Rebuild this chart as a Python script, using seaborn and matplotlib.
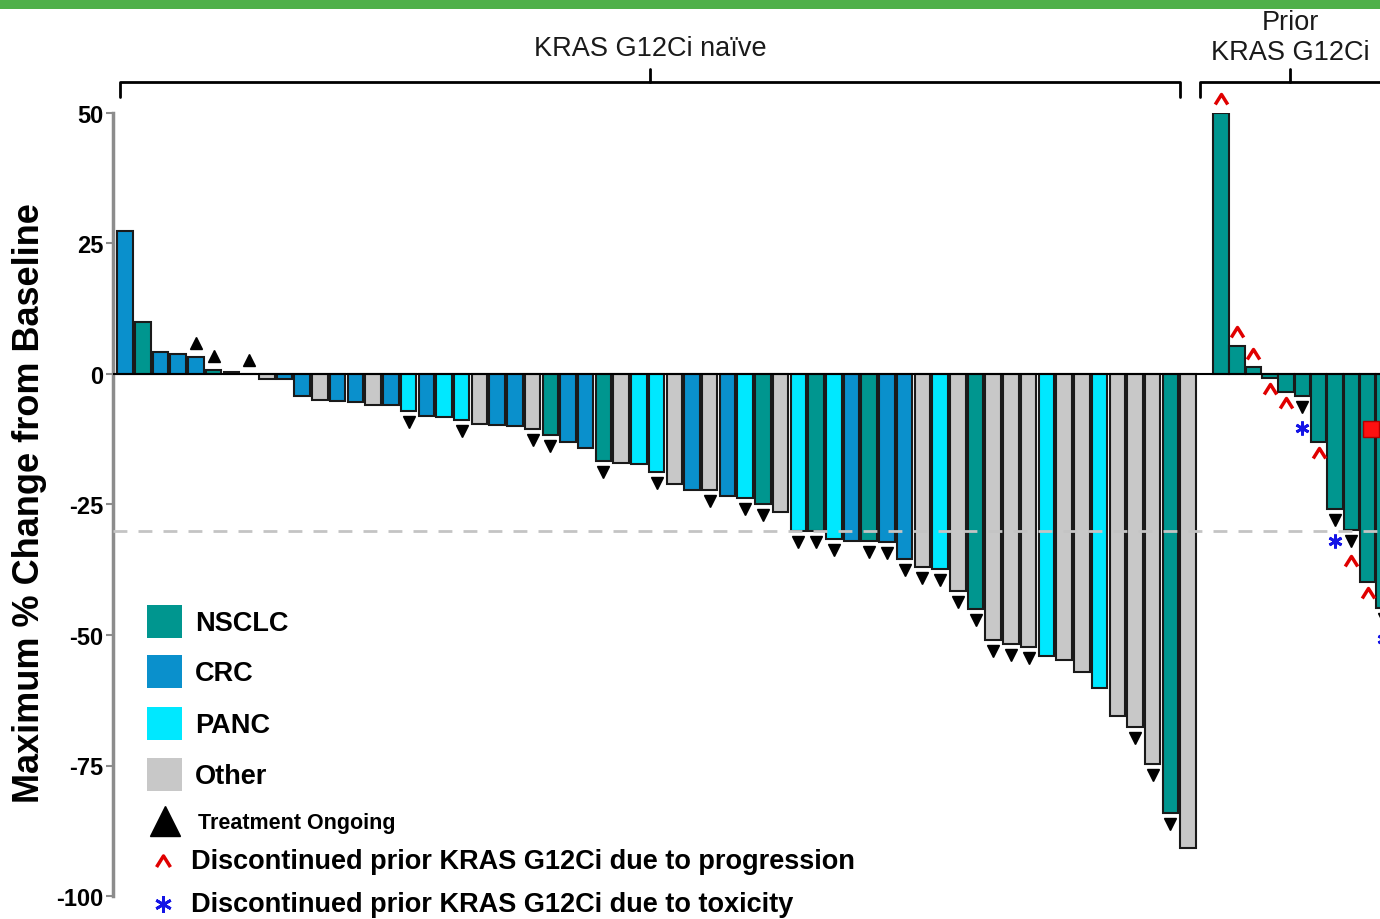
import numpy as np
import pandas as pd
import matplotlib
matplotlib.use("Agg")
import matplotlib.pyplot as plt
import seaborn as sns
from matplotlib.path import Path
from matplotlib.patches import Rectangle
from matplotlib.lines import Line2D

# ---------------- data ----------------
tumor_types = ["NSCLC", "CRC", "PANC", "Other"]
type_colors = ["#00968f", "#0a90cc", "#00e8ff", "#c8c8c8"]

naive_types = ["CRC", "NSCLC", "CRC", "CRC", "CRC", "NSCLC", "NSCLC", "Other", "Other", "CRC",
               "CRC", "Other", "CRC", "CRC", "Other", "CRC", "PANC", "CRC", "PANC", "PANC",
               "Other", "CRC", "CRC", "Other", "NSCLC", "CRC", "CRC", "NSCLC", "Other", "PANC",
               "PANC", "Other", "CRC", "Other", "CRC", "PANC", "NSCLC", "Other", "PANC", "NSCLC",
               "PANC", "CRC", "NSCLC", "CRC", "CRC", "Other", "PANC", "Other", "NSCLC", "Other",
               "Other", "Other", "PANC", "Other", "Other", "PANC", "Other", "Other", "Other", "NSCLC",
               "Other"]
naive_values = [27.4, 10.0, 4.3, 3.9, 3.3, 0.8, 0.4, 0.0, -1.0, -1.0,
                -4.2, -5.0, -5.1, -5.4, -6.0, -6.0, -7.0, -8.0, -8.2, -8.8,
                -9.6, -9.8, -10.0, -10.5, -11.6, -13.0, -14.2, -16.7, -17.0, -17.2,
                -18.8, -21.0, -22.3, -22.3, -23.3, -23.8, -25.0, -26.5, -30.0, -30.0,
                -31.6, -32.0, -32.0, -32.2, -35.4, -37.0, -37.4, -41.5, -45.0, -51.0,
                -51.7, -52.3, -54.0, -54.7, -57.1, -60.2, -65.5, -67.6, -74.7, -84.1,
                -90.8]
naive_ongoing = [0, 0, 0, 0, 1, 1, 0, 1, 0, 0,
                 0, 0, 0, 0, 0, 0, 1, 0, 0, 1,
                 0, 0, 0, 1, 1, 0, 0, 1, 0, 0,
                 1, 0, 0, 1, 0, 1, 1, 0, 1, 1,
                 1, 0, 1, 1, 1, 1, 1, 1, 1, 1,
                 1, 1, 0, 0, 0, 0, 0, 1, 1, 1,
                 0]

prior_types = ["NSCLC"] * 11
prior_values = [50.0, 5.4, 1.3, -0.7, -3.5, -4.3, -13.0, -25.9, -29.8, -39.9, -44.8]
prior_ongoing = [0, 0, 0, 0, 0, 1, 0, 1, 1, 0, 1]
prior_reason = ["prog", "prog", "prog", "prog", "prog", "tox", "prog", "tox", "prog", "prog", "tox"]

yticks = [50, 25, 0, -25, -50, -75, -100]
group_labels = ["KRAS G12Ci naïve", "Prior\nKRAS G12Ci"]
legend_extra = ["Treatment Ongoing",
                "Discontinued prior KRAS G12Ci due to progression",
                "Discontinued prior KRAS G12Ci due to toxicity"]
ylabel = "Maximum % Change from Baseline"
response_cut = -30

# ---------------- layout ----------------
sns.set_theme(style="white")
plt.rcParams['font.family'] = ['Liberation Sans', 'DejaVu Sans']
plt.rcParams['text.color'] = 'black'
plt.rcParams['axes.labelcolor'] = 'black'

W, H = 1380, 920
fig = plt.figure(figsize=(13.8, 9.2), dpi=100)
ax = fig.add_axes([113 / W, 1 - 897 / H, (1380 - 113) / W, (897 - 114) / H])

naive_pos = np.arange(len(naive_values), dtype=float)
prior_pos = 61.85 + 0.92 * np.arange(len(prior_values))

df = pd.DataFrame({
    "x": np.concatenate([naive_pos, prior_pos]),
    "y": naive_values + prior_values,
    "type": naive_types + prior_types,
})
palette = dict(zip(tumor_types, type_colors))

sns.barplot(data=df, x="x", y="y", hue="type", hue_order=tumor_types, palette=palette,
            native_scale=True, dodge=False, width=0.95, saturation=1, errorbar=None,
            legend=False, edgecolor="#1a1a1a", linewidth=1.5, ax=ax, zorder=2)

ax.set_xlim(-0.68, 70.83)
ax.set_ylim(-100, 50)
for s in ["top", "right", "bottom"]:
    ax.spines[s].set_visible(False)
ax.spines["left"].set_color("#8c8c8c")
ax.spines["left"].set_linewidth(2.5)
ax.set_xticks([])
ax.set_xlabel("")
ax.set_ylabel("")
ax.set_yticks(yticks)
ax.set_yticklabels([str(t) for t in yticks], fontweight="bold", fontsize=17)
ax.tick_params(axis="y", left=True, length=5, width=1.5, color="#8c8c8c",
               labelcolor="black", pad=2)

ax.axhline(0, color="black", lw=1.5, zorder=3)
ax.axhline(response_cut, color="#c4c4c4", lw=2, dashes=(5, 4), zorder=4)

# ---------------- markers ----------------
chevron = Path([(-1, -0.8), (0, 0.8), (1, -0.8)], [Path.MOVETO, Path.LINETO, Path.LINETO])
step1, step2, up = 2.1, 6.0, 2.6

# treatment ongoing, naive group
for x, v, o in zip(naive_pos, naive_values, naive_ongoing):
    if o:
        if v >= 0:
            ax.plot(x, v + up, marker="^", color="black", ms=8, ls="none", zorder=5, clip_on=False)
        else:
            ax.plot(x, v - step1, marker="v", color="black", ms=8, ls="none", zorder=5, clip_on=False)

# prior group
for x, v, o, r in zip(prior_pos, prior_values, prior_ongoing, prior_reason):
    marks = []
    if o:
        marks.append("ongoing")
    marks.append(r)
    for k, m in enumerate(marks):
        if v >= 0:
            y = v + up + k * 4
        else:
            y = v - (step1 if k == 0 else step2)
        if m == "ongoing":
            ax.plot(x, y, marker="v", color="black", ms=8, ls="none", zorder=5, clip_on=False)
        elif m == "prog":
            ax.plot(x, y, marker=chevron, mfc="none", mec="#e00000", mew=2.5, ms=9,
                    ls="none", zorder=5, clip_on=False)
        else:
            ax.plot(x, y, marker=(6, 2, 0), mec="#1414e6", mew=2, ms=10,
                    ls="none", zorder=5, clip_on=False)

# red box on the right edge
ax.plot(prior_pos[9] + 0.22, -10.5, marker="s", mfc="#ff1010", mec="#b00000", ms=12,
        ls="none", zorder=6)

# ---------------- group brackets ----------------
def bracket(x0, x1, xc, label, ytext, right_hook=True):
    yb, yend, ytop = 55.9, 53.1, 58.4
    xs = [x0, x0, x1] + ([x1] if right_hook else [])
    ys = [yend, yb, yb] + ([yend] if right_hook else [])
    ax.plot(xs, ys, color="black", lw=2, clip_on=False, solid_joinstyle="round")
    ax.plot([xc, xc], [yb, ytop], color="black", lw=2, clip_on=False)
    ax.text(xc, ytext, label, ha="center", va="center", fontsize=19.5, linespacing=1.2,
            color="#1a1a1a")

x0, x1 = naive_pos[0] - 0.28, naive_pos[-1] - 0.46
bracket(x0, x1, (x0 + x1) / 2, group_labels[0], 62.5)
bracket(prior_pos[0] - 1.18, prior_pos[0] + 14, prior_pos[0] + 3.9, group_labels[1], 64.5,
        right_hook=False)

# ---------------- y label ----------------
fig.text(30 / W, 1 - 503 / H, ylabel, rotation=90, fontsize=26, fontweight="bold",
         ha="center", va="center")

# ---------------- legend ----------------
def fx(px):
    return px / W

def fy(py):
    return 1 - py / H

leg_y = [622, 672, 724, 775]
for t, c, yy in zip(tumor_types, type_colors, leg_y):
    fig.add_artist(Rectangle((fx(147), fy(yy + 17)), 35 / W, 33 / H, transform=fig.transFigure,
                             facecolor=c, edgecolor="none"))
    fig.text(fx(195), fy(yy + 2), t, fontsize=19.5, fontweight="bold", ha="left", va="center")

fig.add_artist(Line2D([fx(165)], [fy(822)], marker="^", color="black", ms=22,
                      transform=fig.transFigure))
fig.text(fx(198), fy(824), legend_extra[0], fontsize=15.5, fontweight="bold", ha="left", va="center")

fig.add_artist(Line2D([fx(163)], [fy(862)], marker=chevron, mfc="none", mec="#e00000", mew=2.5,
                      ms=10, transform=fig.transFigure))
fig.text(fx(191), fy(862), legend_extra[1], fontsize=19.5, fontweight="bold", ha="left", va="center")

fig.add_artist(Line2D([fx(163)], [fy(905)], marker=(6, 2, 0), mec="#1414e6", mew=2, ms=12,
                      transform=fig.transFigure))
fig.text(fx(191), fy(905), legend_extra[2], fontsize=19.5, fontweight="bold", ha="left", va="center")

# green band on top
fig.add_artist(Rectangle((0, 1 - 10 / H), 1, 10 / H, transform=fig.transFigure,
                         facecolor="#4fb04a", edgecolor="none"))

fig.savefig("out.png", dpi=100)
